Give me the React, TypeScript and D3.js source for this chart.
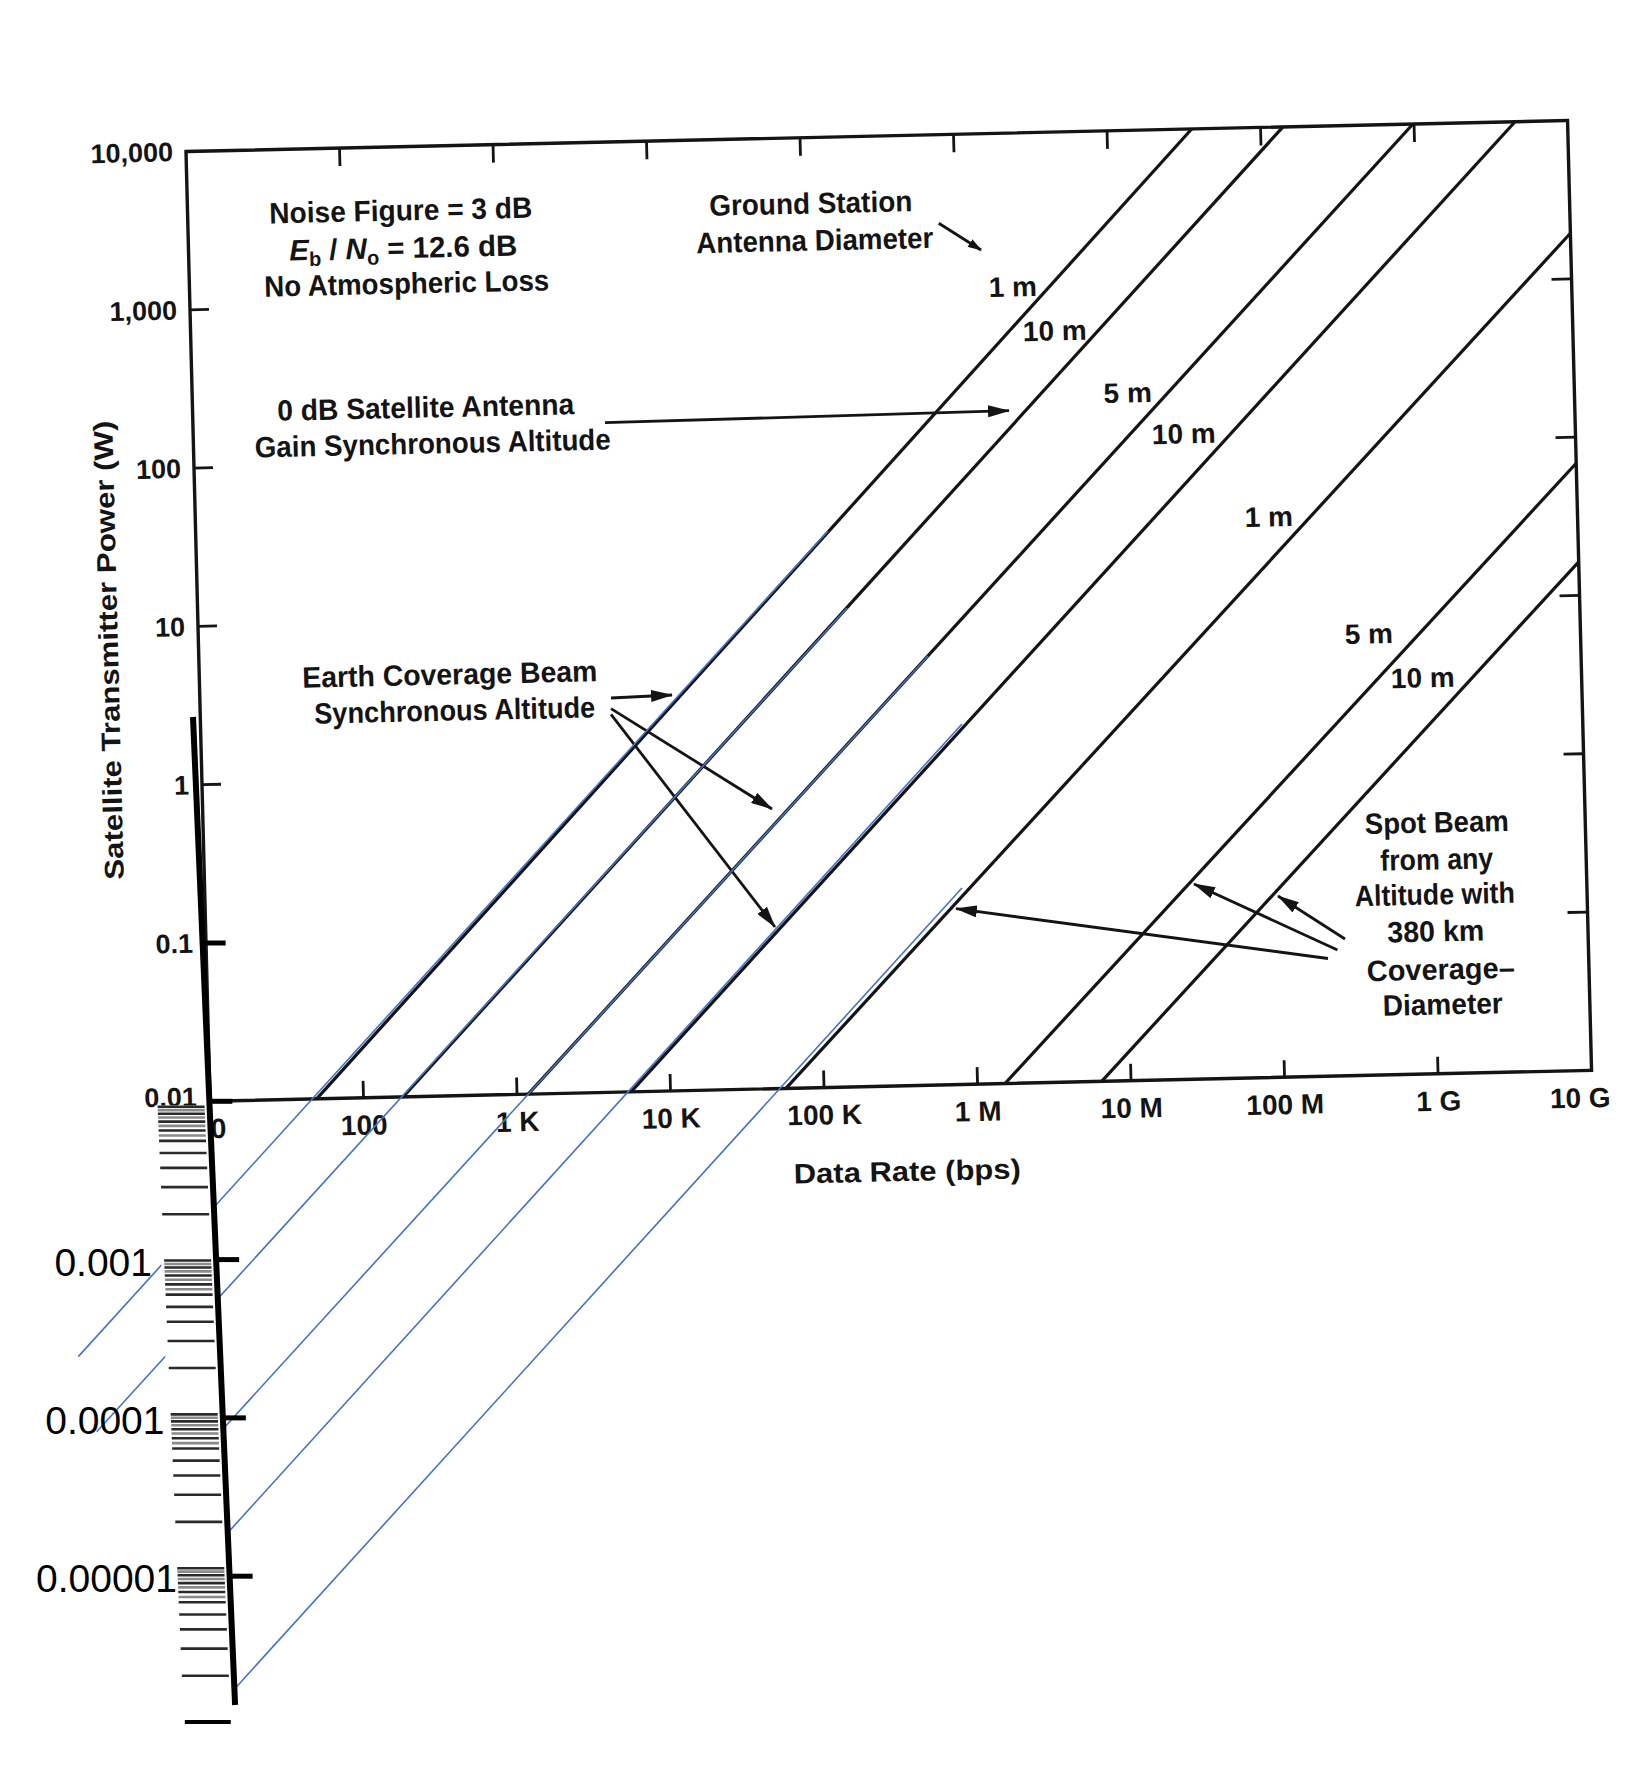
import React from "react";
import * as d3 from "d3";

// ground-station curves: rate (bps) where each leaves the 0.01 W floor, and where it meets the top / right edge
const curveLabels = ["1 m", "10 m", "5 m", "10 m", "1 m", "5 m", "10 m"];
const curveStartRate = [49.5, 181, 1183, 5530, 56500, 1.51e6, 6.44e6];
const curveStartPower = [0.01, 0.01, 0.01, 0.01, 0.01, 0.01, 0.01];
const curveEndRate = [3.56e7, 1.4e8, 9.84e8, 4.55e9, 1e10, 1e10, 1e10];
const curveEndPower = [1e4, 1e4, 1e4, 1e4, 1941, 68.4, 16.3];

// blue extensions drawn below the 0.01 W floor
const blueStartRate = [131100, 169300, 559800, 907800, 853000];
const blueStartPower = [32.6, 10.58, 5.13, 1.888, 0.174];
const blueEndRate = [1.26, 1.614, 10.0, 10.35, 10.9];
const blueEndPower = [2.55e-4, 8.51e-5, 7.92e-5, 1.75e-5, 1.82e-6];

const xTickValues = [10, 100, 1e3, 1e4, 1e5, 1e6, 1e7, 1e8, 1e9, 1e10];
const xTickLabels = ["10", "100", "1 K", "10 K", "100 K", "1 M", "10 M", "100 M", "1 G", "10 G"];
const yTickValues = [1e4, 1e3, 100, 10, 1, 0.1, 0.01];
const yTickLabels = ["10,000", "1,000", "100", "10", "1", "0.1", "0.01"];
const extTickValues = [0.1, 0.01, 0.001, 0.0001, 0.00001];
const extLabelValues = [0.001, 0.0001, 0.00001];
const extLabels = ["0.001", "0.0001", "0.00001"];
const ladderDecades = [0.01, 0.001, 0.0001, 0.00001];
const ladderMantissas = [1, 0.95, 0.9, 0.85, 0.8, 0.75, 0.7, 0.65, 0.6, 0.5, 0.4, 0.3, 0.2];
const halfSteps = [0.95, 0.85, 0.75, 0.65];

const FONT = "'Liberation Sans', Arial, Helvetica, sans-serif";
const W = 1381.9;
const H = 950.1;
// the scanned chart sits slightly rotated on the page
const A = 0.99974, B = -0.0224, C = 0.02526, D = 0.99968, E = 186, F = 151.5;
const toScreen = (px: number, py: number): [number, number] => [A * px + C * py + E, B * px + D * py + F];
const fromScreen = (sx: number, sy: number): [number, number] => {
  const dx = sx - E, dy = sy - F, det = A * D - B * C;
  return [(D * dx - C * dy) / det, (-B * dx + A * dy) / det];
};
// pasted extension axis, a little more tilted than the frame
const axisX = (sy: number) => 193 + (sy - 717) * 0.0426;

export default function App() {
  const x = d3.scaleLog().domain([10, 1e10]).range([0, W]);
  const y = d3.scaleLog().domain([1e4, 0.01]).range([0, H]);
  const yLadder = d3.scaleLog().domain([0.01, 1e-6]).range([1106.7, 1722]);
  const seg = d3
    .line<[number, number]>()
    .x(d => x(d[0]))
    .y(d => y(d[1]));
  const ink = "#141414";
  const txt = { fontFamily: FONT, fontSize: 29.5, fontWeight: "bold", fill: ink };

  const notes = [
    { t: "Noise Figure = 3 dB", x: 401, y: 210, w: 263 },
    { t: "No Atmospheric Loss", x: 407, y: 283, w: 285 },
    { t: "Ground Station", x: 811, y: 203, w: 203 },
    { t: "Antenna Diameter", x: 815, y: 240, w: 237 },
    { t: "0 dB Satellite Antenna", x: 426, y: 407, w: 297 },
    { t: "Gain Synchronous Altitude", x: 433, y: 443, w: 356 },
    { t: "Earth Coverage Beam", x: 450, y: 674, w: 295 },
    { t: "Synchronous Altitude", x: 455, y: 710, w: 281 },
    { t: "Spot Beam", x: 1437, y: 822, w: 144 },
    { t: "from any", x: 1437, y: 859, w: 113 },
    { t: "Altitude with", x: 1435, y: 894, w: 160 },
    { t: "380 km", x: 1436, y: 931, w: 97 },
    { t: "Coverage\u2013", x: 1441, y: 969, w: 148 },
    { t: "Diameter", x: 1443, y: 1004, w: 120 }
  ];
  const labelSpots = [
    [1013, 286], [1055, 330], [1128, 392], [1184, 433], [1269, 516], [1369, 633], [1423, 677]
  ];
  const arrows = [
    { from: [938.75, 223.3], to: [981, 250], small: true },
    { from: [605, 422.7], to: [1009, 410.7] },
    { from: [611, 698], to: [672, 695] },
    { from: [611, 708.6], to: [772, 809] },
    { from: [611, 714.3], to: [775, 927] },
    { from: [1328, 958.5], to: [956, 908.7] },
    { from: [1337.5, 950], to: [1194, 884] },
    { from: [1345, 939], to: [1278, 896] }
  ];

  const ebNo = fromScreen(403.5, 258);
  const yTitle = fromScreen(118, 650);
  const xTitle = fromScreen(907.5, 1181);

  return (
    <svg
      width={1630}
      height={1779}
      viewBox="0 0 1630 1779"
      style={{ position: "absolute", left: 0, top: 0, display: "block" }}
    >
      <rect width={1630} height={1779} fill="#fff" />
      <defs>
        <marker id="ah" viewBox="0 0 22 12" refX={21} refY={6} markerWidth={22} markerHeight={12}
          markerUnits="userSpaceOnUse" orient="auto">
          <path d="M0,0 L22,6 L0,12 Z" fill={ink} />
        </marker>
        <marker id="ahs" viewBox="0 0 14 9" refX={13} refY={4.5} markerWidth={14} markerHeight={9}
          markerUnits="userSpaceOnUse" orient="auto">
          <path d="M0,0 L14,4.5 L0,9 Z" fill={ink} />
        </marker>
      </defs>

      <g transform={`matrix(${A} ${B} ${C} ${D} ${E} ${F})`}>
        <rect x={0} y={0} width={W} height={H} fill="none" stroke={ink} strokeWidth={3.4} />
        {xTickValues.slice(1, -1).map(v => (
          <g key={"xt" + v} stroke={ink} strokeWidth={2.8}>
            <line x1={x(v)} x2={x(v)} y1={0} y2={18} />
            <line x1={x(v)} x2={x(v)} y1={H} y2={H - 17} />
          </g>
        ))}
        {yTickValues.slice(1, -1).map(v => (
          <g key={"yt" + v} stroke={ink} strokeWidth={2.8}>
            <line x1={0} x2={19} y1={y(v)} y2={y(v)} />
            <line x1={W} x2={W - 20} y1={y(v)} y2={y(v)} />
          </g>
        ))}
        {xTickValues.map((v, i) => (
          <text key={"xl" + v} {...txt} fontSize={28} x={x(v) + (i === xTickValues.length - 1 ? -12 : 0)}
            y={H + 37} textAnchor="middle">
            {xTickLabels[i]}
          </text>
        ))}
        {yTickValues.map((v, i) => (
          <text key={"yl" + v} {...txt} fontSize={27} x={-13}
            y={y(v) + 9.5 - (i === yTickValues.length - 1 ? 5 : 0)} textAnchor="end">
            {yTickLabels[i]}
          </text>
        ))}

        {curveStartRate.map((r, i) => (
          <path key={"c" + i} d={seg([[r, curveStartPower[i]], [curveEndRate[i], curveEndPower[i]]]) || ""}
            fill="none" stroke={ink} strokeWidth={3.2} />
        ))}

        {notes.map(n => {
          const [px, py] = fromScreen(n.x, n.y + 10.5);
          return (
            <text key={n.t} {...txt} x={px} y={py} textAnchor="middle" textLength={n.w}
              lengthAdjust="spacingAndGlyphs">
              {n.t}
            </text>
          );
        })}
        <text {...txt} x={ebNo[0]} y={ebNo[1]} textAnchor="middle" textLength={228}
          lengthAdjust="spacingAndGlyphs">
          <tspan fontStyle="italic">E</tspan>
          <tspan fontSize={20} dy={6}>b</tspan>
          <tspan dy={-6}> / </tspan>
          <tspan fontStyle="italic">N</tspan>
          <tspan fontSize={20} dy={6}>o</tspan>
          <tspan dy={-6}> = 12.6 dB</tspan>
        </text>
        {curveLabels.map((t, i) => {
          const [px, py] = fromScreen(labelSpots[i][0], labelSpots[i][1] + 10.5);
          return (
            <text key={"cl" + i} {...txt} fontSize={28} x={px} y={py} textAnchor="middle">
              {t}
            </text>
          );
        })}
        {arrows.map((a, i) => {
          const p0 = fromScreen(a.from[0], a.from[1]);
          const p1 = fromScreen(a.to[0], a.to[1]);
          return (
            <line key={"a" + i} x1={p0[0]} y1={p0[1]} x2={p1[0]} y2={p1[1]} stroke={ink}
              strokeWidth={2.8} markerEnd={a.small ? "url(#ahs)" : "url(#ah)"} />
          );
        })}
        <text {...txt} fontSize={27} textAnchor="middle" textLength={459} lengthAdjust="spacingAndGlyphs"
          transform={`translate(${yTitle[0]},${yTitle[1]}) rotate(-90)`}>
          Satellite Transmitter Power  (W)
        </text>
        <text {...txt} fontSize={28} textAnchor="middle" x={xTitle[0]} y={xTitle[1]} textLength={227}
          lengthAdjust="spacingAndGlyphs">
          Data Rate  (bps)
        </text>

        {blueStartRate.map((r, i) => (
          <path key={"b" + i} d={seg([[r, blueStartPower[i]], [blueEndRate[i], blueEndPower[i]]]) || ""}
            fill="none" stroke="#4472C4" strokeWidth={1.6} />
        ))}
      </g>

      {/* pasted log ladder with its white backing */}
      <polygon
        points={[1105.5, 1730].map(sy => `${axisX(sy) - 55},${sy}`).concat(
          [1730, 1105.5].map(sy => `${axisX(sy)},${sy}`)).join(" ")}
        fill="#fff"
      />
      {ladderDecades.map(dec =>
        ladderMantissas.map(m => {
          const sy = yLadder(dec * m);
          const half = halfSteps.includes(m);
          return (
            <line key={"ld" + dec + "_" + m} x1={axisX(sy) - 52} x2={axisX(sy) - 5} y1={sy} y2={sy}
              stroke={half ? "#8a8a8a" : "#2a2a2a"} strokeWidth={2.6} />
          );
        })
      )}
      <line x1={axisX(yLadder(1e-6)) - 51} x2={axisX(yLadder(1e-6)) - 5} y1={yLadder(1e-6)} y2={yLadder(1e-6)}
        stroke="#000" strokeWidth={4} />
      <line x1={axisX(717)} y1={717} x2={axisX(1705)} y2={1705} stroke="#000" strokeWidth={6} />
      {extTickValues.map(v => {
        const sy = toScreen(0, y(v))[1];
        return (
          <line key={"et" + v} x1={axisX(sy) + 1} x2={axisX(sy) + 23} y1={sy} y2={sy}
            stroke="#000" strokeWidth={5} />
        );
      })}
      {extLabelValues.map((v, i) => {
        const sy = toScreen(0, y(v))[1];
        return (
          <text key={"el" + v} x={152 + 12.5 * i} y={sy + 16} textAnchor="end" fontFamily={FONT}
            fontSize={39} fill="#000">
            {extLabels[i]}
          </text>
        );
      })}
    </svg>
  );
}
